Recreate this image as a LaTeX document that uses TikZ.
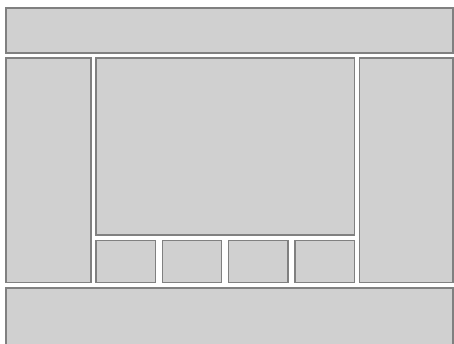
\documentclass[tikz,border=0pt]{standalone}
\usepackage{xcolor}
\usepackage{tikz}
\usetikzlibrary{positioning}
\definecolor{panelfill}{HTML}{D0D0D0}
\definecolor{paneledge}{HTML}{808080}
\tikzset{
  panel/.style={draw=paneledge, line width=1.4pt, fill=panelfill, inner sep=0pt,
                outer sep=0pt, anchor=north west},
  thumb/.style={panel, minimum width=59.3pt, minimum height=42pt}
}
\begin{document}
\begin{tikzpicture}[x=1pt, y=-1pt, node distance=7pt]
  \useasboundingbox (0,0) rectangle (454,343);
  \node[panel, minimum width=447pt, minimum height=45pt] (header) at (6,8) {};
  \node[panel, minimum width=85pt, minimum height=224.7pt] (leftbar) at (6,58) {};
  \node[panel, minimum width=258.7pt, minimum height=177pt] (content) at (96,58) {};
  \node[panel, minimum width=93.5pt, minimum height=224.7pt] (rightbar) at (359.5,58) {};
  % row of thumbnails under the content area
  \node[thumb] (thumb1) at (96,240.7) {};
  \foreach \i/\j in {1/2,2/3,3/4}
    \node[thumb, right=of thumb\i] (thumb\j) {};
  \node[panel, minimum width=447pt, minimum height=60pt] (footer) at (6,288) {};
\end{tikzpicture}
\end{document}
